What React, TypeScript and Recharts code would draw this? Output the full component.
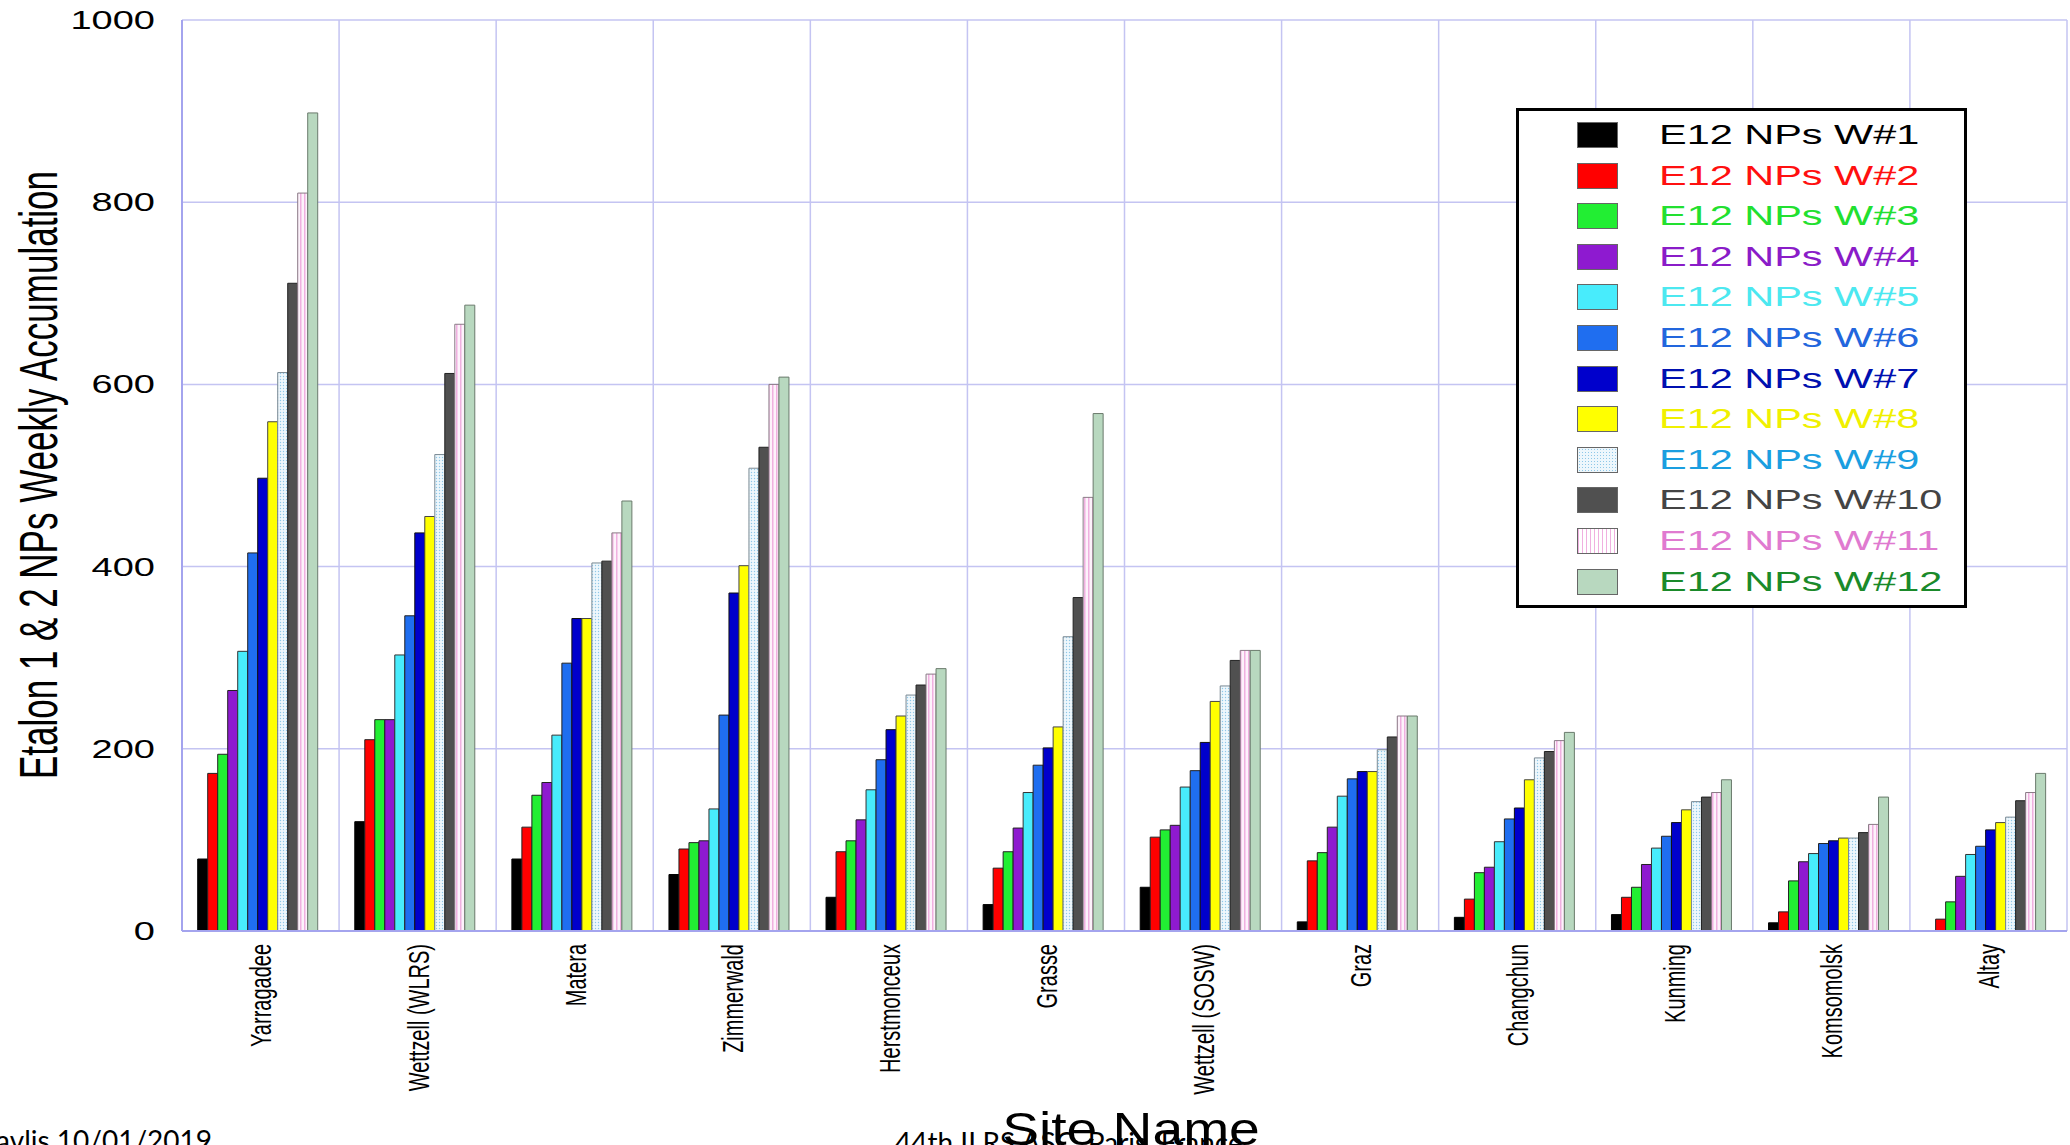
import React from "react";
import { BarChart, Bar, XAxis, YAxis, CartesianGrid, Legend } from "recharts";

// site names along the x axis
const sites = [
  "Yarragadee",
  "Wettzell (WLRS)",
  "Matera",
  "Zimmerwald",
  "Herstmonceux",
  "Grasse",
  "Wettzell (SOSW)",
  "Graz",
  "Changchun",
  "Kunming",
  "Komsomolsk",
  "Altay",
];

// weekly accumulation of Etalon 1 & 2 normal points, one array per week
const w1 = [79, 120, 79, 62, 37, 29, 48, 10, 15, 18, 9, 0];
const w2 = [173, 210, 114, 90, 87, 69, 103, 77, 35, 37, 21, 13];
const w3 = [194, 232, 149, 97, 99, 87, 111, 86, 64, 48, 55, 32];
const w4 = [264, 232, 163, 99, 122, 113, 116, 114, 70, 73, 76, 60];
const w5 = [307, 303, 215, 134, 155, 152, 158, 148, 98, 91, 85, 84];
const w6 = [415, 346, 294, 237, 188, 182, 176, 167, 123, 104, 96, 93];
const w7 = [497, 437, 343, 371, 221, 201, 207, 175, 135, 119, 99, 111];
const w8 = [559, 455, 343, 401, 236, 224, 252, 175, 166, 133, 102, 119];
const w9 = [613, 523, 404, 508, 259, 323, 269, 199, 190, 142, 102, 125];
const w10 = [711, 612, 406, 531, 270, 366, 297, 213, 197, 147, 108, 143];
const w11 = [810, 666, 437, 600, 282, 476, 308, 236, 209, 152, 117, 152];
const w12 = [898, 687, 472, 608, 288, 568, 308, 236, 218, 166, 147, 173];

const weeks = [w1, w2, w3, w4, w5, w6, w7, w8, w9, w10, w11, w12];
const seriesNames = weeks.map((_, i) => `E12 NPs W#${i + 1}`);
const yTicks = [0, 200, 400, 600, 800, 1000];

const barFills = [
  "#000000", "#ff0000", "#22ee33", "#8e1ad0", "#48ecfc", "#1f6ef0",
  "#0000cc", "#ffff00", "url(#dotsW9)", "#505050", "url(#stripesW11)", "#b8d8bf",
];
const barStrokes = [
  "#000", "#222", "#222", "#222", "#333", "#222",
  "#111", "#444", "#7a8a94", "#222", "#8a7a86", "#6a7a6c",
];
const legendText = [
  "#000000", "#ff1010", "#22e030", "#8a1cc8", "#4ce8f0", "#2266dd",
  "#0010b0", "#f0f000", "#1a9ee0", "#444444", "#e07ad0", "#1a8a2a",
];
const legendSwatch = [
  "#000000", "#ff0000", "#22ee33", "#8e1ad0", "#48ecfc", "#1f6ef0",
  "#0000cc", "#ffff00",
  "radial-gradient(circle, #8fc8e8 0.6px, #eef7fc 0.9px) 0 0 / 3px 3px",
  "#505050",
  "repeating-linear-gradient(90deg, #f0b0e0 0 1.5px, #ffffff 1.5px 4px)",
  "#b8d8bf",
];

const data = sites.map((site, i) => {
  const row: Record<string, string | number> = { site };
  weeks.forEach((w, k) => {
    row[`w${k + 1}`] = w[i];
  });
  return row;
});

const FONT = "'Liberation Sans', Arial, Helvetica, sans-serif";
const STRETCH = 1.52; // the original figure is stretched horizontally
const GRID = "#c4c4f2";
const AXIS = "#a4a4ee";

const XTick = (props: any) => {
  const { x, y, payload } = props;
  return (
    <g transform={`translate(${x},${y + 13}) scale(${STRETCH},1) rotate(-90)`}>
      <text x={0} y={0} dy="0.36em" textAnchor="end" fontFamily={FONT} fontSize={20} fill="#000">
        {payload.value}
      </text>
    </g>
  );
};

const YTick = (props: any) => {
  const { x, y, payload } = props;
  return (
    <g transform={`translate(${x - 27},${y}) scale(${STRETCH},1)`}>
      <text x={0} y={0} dy="0.36em" textAnchor="end" fontFamily={FONT} fontSize={25} fill="#000">
        {payload.value}
      </text>
    </g>
  );
};

const LegendBox = (props: any) => {
  // keep the legend in week order, whatever order the payload comes in
  const payload = [...(props.payload || [])].sort(
    (a: any, b: any) => seriesNames.indexOf(a.value) - seriesNames.indexOf(b.value)
  );
  return (
    <div
      style={{
        position: "relative",
        width: 451,
        height: 500,
        border: "3px solid #000",
        boxSizing: "border-box",
        background: "#fff",
      }}
    >
      {payload.map((entry: any) => {
        const i = seriesNames.indexOf(entry.value);
        const cy = 24 + i * 40.6;
        return (
          <React.Fragment key={entry.value}>
            <div
              style={{
                position: "absolute",
                left: 58,
                top: cy - 13,
                width: 41,
                height: 26,
                background: legendSwatch[i],
                border: "1px solid #666",
                boxSizing: "border-box",
              }}
            />
            <div
              style={{
                position: "absolute",
                left: 140,
                top: cy - 16,
                height: 32,
                lineHeight: "32px",
                fontFamily: FONT,
                fontSize: 28,
                color: legendText[i],
                whiteSpace: "nowrap",
                transform: `scaleX(${STRETCH - 0.04})`,
                transformOrigin: "0 50%",
              }}
            >
              {entry.value}
            </div>
          </React.Fragment>
        );
      })}
    </div>
  );
};

export default function App() {
  return (
    <div style={{ position: "absolute", left: 0, top: 0, width: 2070, height: 1145, overflow: "hidden", background: "#fff" }}>
      <svg width={0} height={0} style={{ position: "absolute" }}>
        <defs>
          <pattern id="dotsW9" patternUnits="userSpaceOnUse" width={3} height={3}>
            <rect width={3} height={3} fill="#eef7fc" />
            <circle cx={1.5} cy={1.5} r={0.7} fill="#8fc8e8" />
          </pattern>
          <pattern id="stripesW11" patternUnits="userSpaceOnUse" width={4} height={4}>
            <rect width={4} height={4} fill="#fdf2fb" />
            <rect width={1.5} height={4} fill="#f0b0e0" />
          </pattern>
        </defs>
      </svg>
      <BarChart
        width={2070}
        height={1145}
        data={data}
        margin={{ top: 20, right: 3, left: 0, bottom: 14 }}
        barCategoryGap="10%"
        barGap={0}
      >
        <CartesianGrid
          stroke={GRID}
          strokeWidth={1.5}
          verticalCoordinatesGenerator={({ offset }: any) =>
            sites.map((_, i) => offset.left + (offset.width * i) / sites.length).concat(offset.left + offset.width)
          }
        />
        <XAxis
          dataKey="site"
          interval={0}
          height={200}
          tickSize={0}
          tickMargin={0}
          tickLine={false}
          axisLine={{ stroke: AXIS, strokeWidth: 2 }}
          tick={<XTick />}
        />
        <YAxis
          width={182}
          domain={[0, 1000]}
          ticks={yTicks}
          interval={0}
          tickSize={0}
          tickMargin={0}
          tickLine={false}
          axisLine={{ stroke: AXIS, strokeWidth: 2 }}
          tick={<YTick />}
        />
        <Legend
          layout="vertical"
          align="center"
          verticalAlign="middle"
          wrapperStyle={{ left: 1516, top: 108, width: 451, height: 500 }}
          content={<LegendBox />}
        />
        {weeks.map((_, k) => (
          <Bar
            key={k}
            dataKey={`w${k + 1}`}
            name={seriesNames[k]}
            fill={barFills[k]}
            stroke={barStrokes[k]}
            strokeWidth={1}
            isAnimationActive={false}
          />
        ))}
      </BarChart>
      <svg width={2070} height={1145} style={{ position: "absolute", left: 0, top: 0, pointerEvents: "none" }}>
        <g transform={`translate(38,475) scale(${STRETCH},1) rotate(-90)`}>
          <text x={0} y={0} dy="0.36em" textAnchor="middle" fontFamily={FONT} fontSize={35} fill="#000">
            Etalon 1 &amp; 2 NPs Weekly Accumulation
          </text>
        </g>
        <text x={212} y={1151} textAnchor="end" fontFamily="Lato, 'Open Sans', sans-serif" fontSize={28} fill="#000">
          E. C. Pavlis 10/01/2019
        </text>
        <text x={895} y={1153} textAnchor="start" fontFamily="Lato, 'Open Sans', sans-serif" fontSize={28} fill="#000">
          44th ILRS ASC, Paris, France
        </text>
        <g transform="translate(1131,1145) scale(1.2,1)">
          <text x={0} y={0} textAnchor="middle" fontFamily={FONT} fontSize={46} fill="#000">
            Site Name
          </text>
        </g>
      </svg>
    </div>
  );
}
